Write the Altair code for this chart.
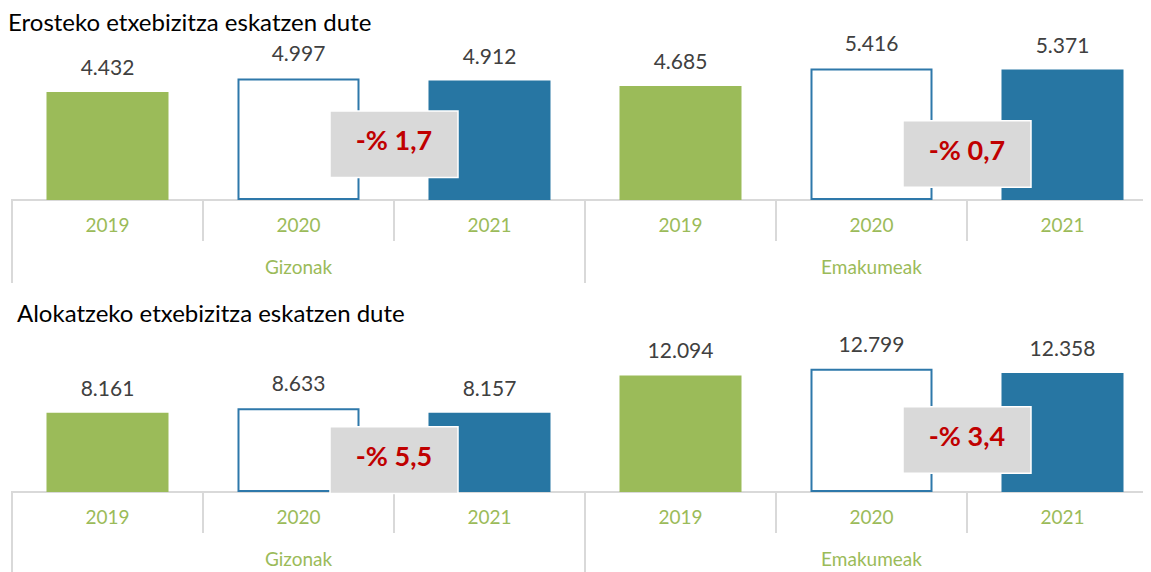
import altair as alt
import pandas as pd

# ---------------- data ----------------
groups = ["Gizonak", "Emakumeak"]
years = ["2019", "2020", "2021"]
titles = ["Erosteko etxebizitza eskatzen dute", "Alokatzeko etxebizitza eskatzen dute"]
erosteko = [4432, 4997, 4912, 4685, 5416, 5371]
alokatzeko = [8161, 8633, 8157, 12094, 12799, 12358]
change_erosteko = ["-% 1,7", "-% 0,7"]
change_alokatzeko = ["-% 5,5", "-% 3,4"]

# ---------------- layout / style ----------------
W, H = 1135, 564
X0 = 4
STEP = 191
X1 = X0 + 6 * STEP
PAD = 0.3717
FONT = "Lato"
GREEN = "#9BBB59"
BLUE = "#2776A3"
BLUE_LINE = "#2E78AA"
GRID = "#D9D9D9"
RED = "#C00000"

cats = [f"{g} {y}" for g in groups for y in years]

# scale for bars / labels (bands with padding)
xscale = alt.Scale(domain=cats, range=[X0, X1], paddingInner=PAD, paddingOuter=PAD / 2, round=False)
# scale for category boundaries (no padding: band start = column start)
xbound = alt.Scale(domain=cats, range=[X0, X1], paddingInner=0, paddingOuter=0, round=False)

PANELS = [
    dict(values=erosteko, changes=change_erosteko, title=titles[0], base=191, k=0.02392,
         dmax=6000, box=[2290, 1880], tx=0, ty=16, ext=84),
    dict(values=alokatzeko, changes=change_alokatzeko, title=titles[1], base=483, k=0.00947,
         dmax=14000, box=[3260, 5380], tx=9, ty=307, ext=84),
]


def fmt(v):
    return f"{v:,}".replace(",", ".")


def panel_layers(p):
    base, k, dmax = p["base"], p["k"], p["dmax"]
    yscale = alt.Scale(domain=[0, dmax], range=[base, base - dmax * k], nice=False, zero=True)

    df = pd.DataFrame({
        "cat": cats,
        "group": [g for g in groups for _ in years],
        "year": [y for _ in groups for y in years],
        "value": p["values"],
    })
    df["label"] = df["value"].map(fmt)

    X = alt.X("cat:N", scale=xscale, axis=None, sort=cats)
    XB = alt.X("cat:N", scale=xbound, axis=None, sort=cats, bandPosition=0)
    Y = alt.Y("value:Q", scale=yscale, axis=None)

    layers = []

    # title
    layers.append(
        alt.Chart(pd.DataFrame({"t": [p["title"]]})).mark_text(
            align="left", baseline="middle", font=FONT, fontSize=24, color="#000000"
        ).encode(text="t:N", x=alt.value(p["tx"]), y=alt.value(p["ty"]))
    )

    # category axis baseline
    layers.append(
        alt.Chart(pd.DataFrame({"a": [0]})).mark_rule(color=GRID, strokeWidth=2).encode(
            x=alt.value(X0), x2=alt.value(W), y=alt.value(base + 1)
        )
    )

    # bars
    layers.append(
        alt.Chart(df).mark_bar(strokeWidth=2).encode(
            x=X, y=Y,
            fill=alt.Fill("year:N", scale=alt.Scale(domain=years, range=[GREEN, "#FFFFFF", BLUE]), legend=None),
            stroke=alt.Stroke("year:N", scale=alt.Scale(domain=years, range=[GREEN, BLUE_LINE, BLUE]), legend=None),
        )
    )

    # value labels
    layers.append(
        alt.Chart(df).mark_text(dy=-24, baseline="middle", font=FONT, fontSize=21, color="#404040").encode(
            x=X, y=Y, text="label:N"
        )
    )

    # short dividers between years
    short = df[df["year"] != years[0]]
    layers.append(
        alt.Chart(short).mark_rule(color=GRID, strokeWidth=2).encode(
            x=XB, y=alt.value(base), y2=alt.value(base + 42),
        )
    )
    # long dividers between groups
    long_ = df[df["year"] == years[0]]
    layers.append(
        alt.Chart(long_).mark_rule(color=GRID, strokeWidth=2).encode(
            x=XB, y=alt.value(base), y2=alt.value(base + p["ext"]),
        )
    )

    # year labels
    layers.append(
        alt.Chart(df).mark_text(baseline="middle", font=FONT, fontSize=19, color=GREEN).encode(
            x=X, y=alt.value(base + 27), text="year:N"
        )
    )
    # group labels
    mid = df[df["year"] == years[1]]
    layers.append(
        alt.Chart(mid).mark_text(baseline="middle", font=FONT, fontSize=19, color=GREEN).encode(
            x=X, y=alt.value(base + 69), text="group:N"
        )
    )

    # change boxes, centred on the boundary between 2020 and 2021
    bdf = pd.DataFrame({
        "cat": [f"{g} {years[2]}" for g in groups],
        "pos": p["box"],
        "change": p["changes"],
    })
    BX = alt.X("cat:N", scale=xbound, axis=None, sort=cats)
    BY = alt.Y("pos:Q", scale=yscale, axis=None)
    layers.append(
        alt.Chart(bdf).mark_point(
            shape="M-1,-0.52L1,-0.52L1,0.52L-1,0.52Z", size=128 ** 2, filled=True,
            fill=GRID, stroke="#FFFFFF", strokeWidth=1.5, opacity=1, xOffset=-STEP / 2,
        ).encode(x=BX, y=BY)
    )
    layers.append(
        alt.Chart(bdf).mark_text(baseline="middle", dy=-2, dx=-STEP / 2, font=FONT, fontSize=27,
                                 fontWeight="bold", color=RED).encode(
            x=BX, y=BY, text="change:N"
        )
    )
    return layers


all_layers = []
for p in PANELS:
    all_layers += panel_layers(p)

chart = alt.layer(*all_layers).resolve_scale(x="independent", y="independent").properties(
    width=W, height=H, autosize=alt.AutoSizeParams(type="none"), padding=0
).configure_view(stroke=None)

chart.save("out.html", embed_options={"renderer": "svg", "actions": False})
